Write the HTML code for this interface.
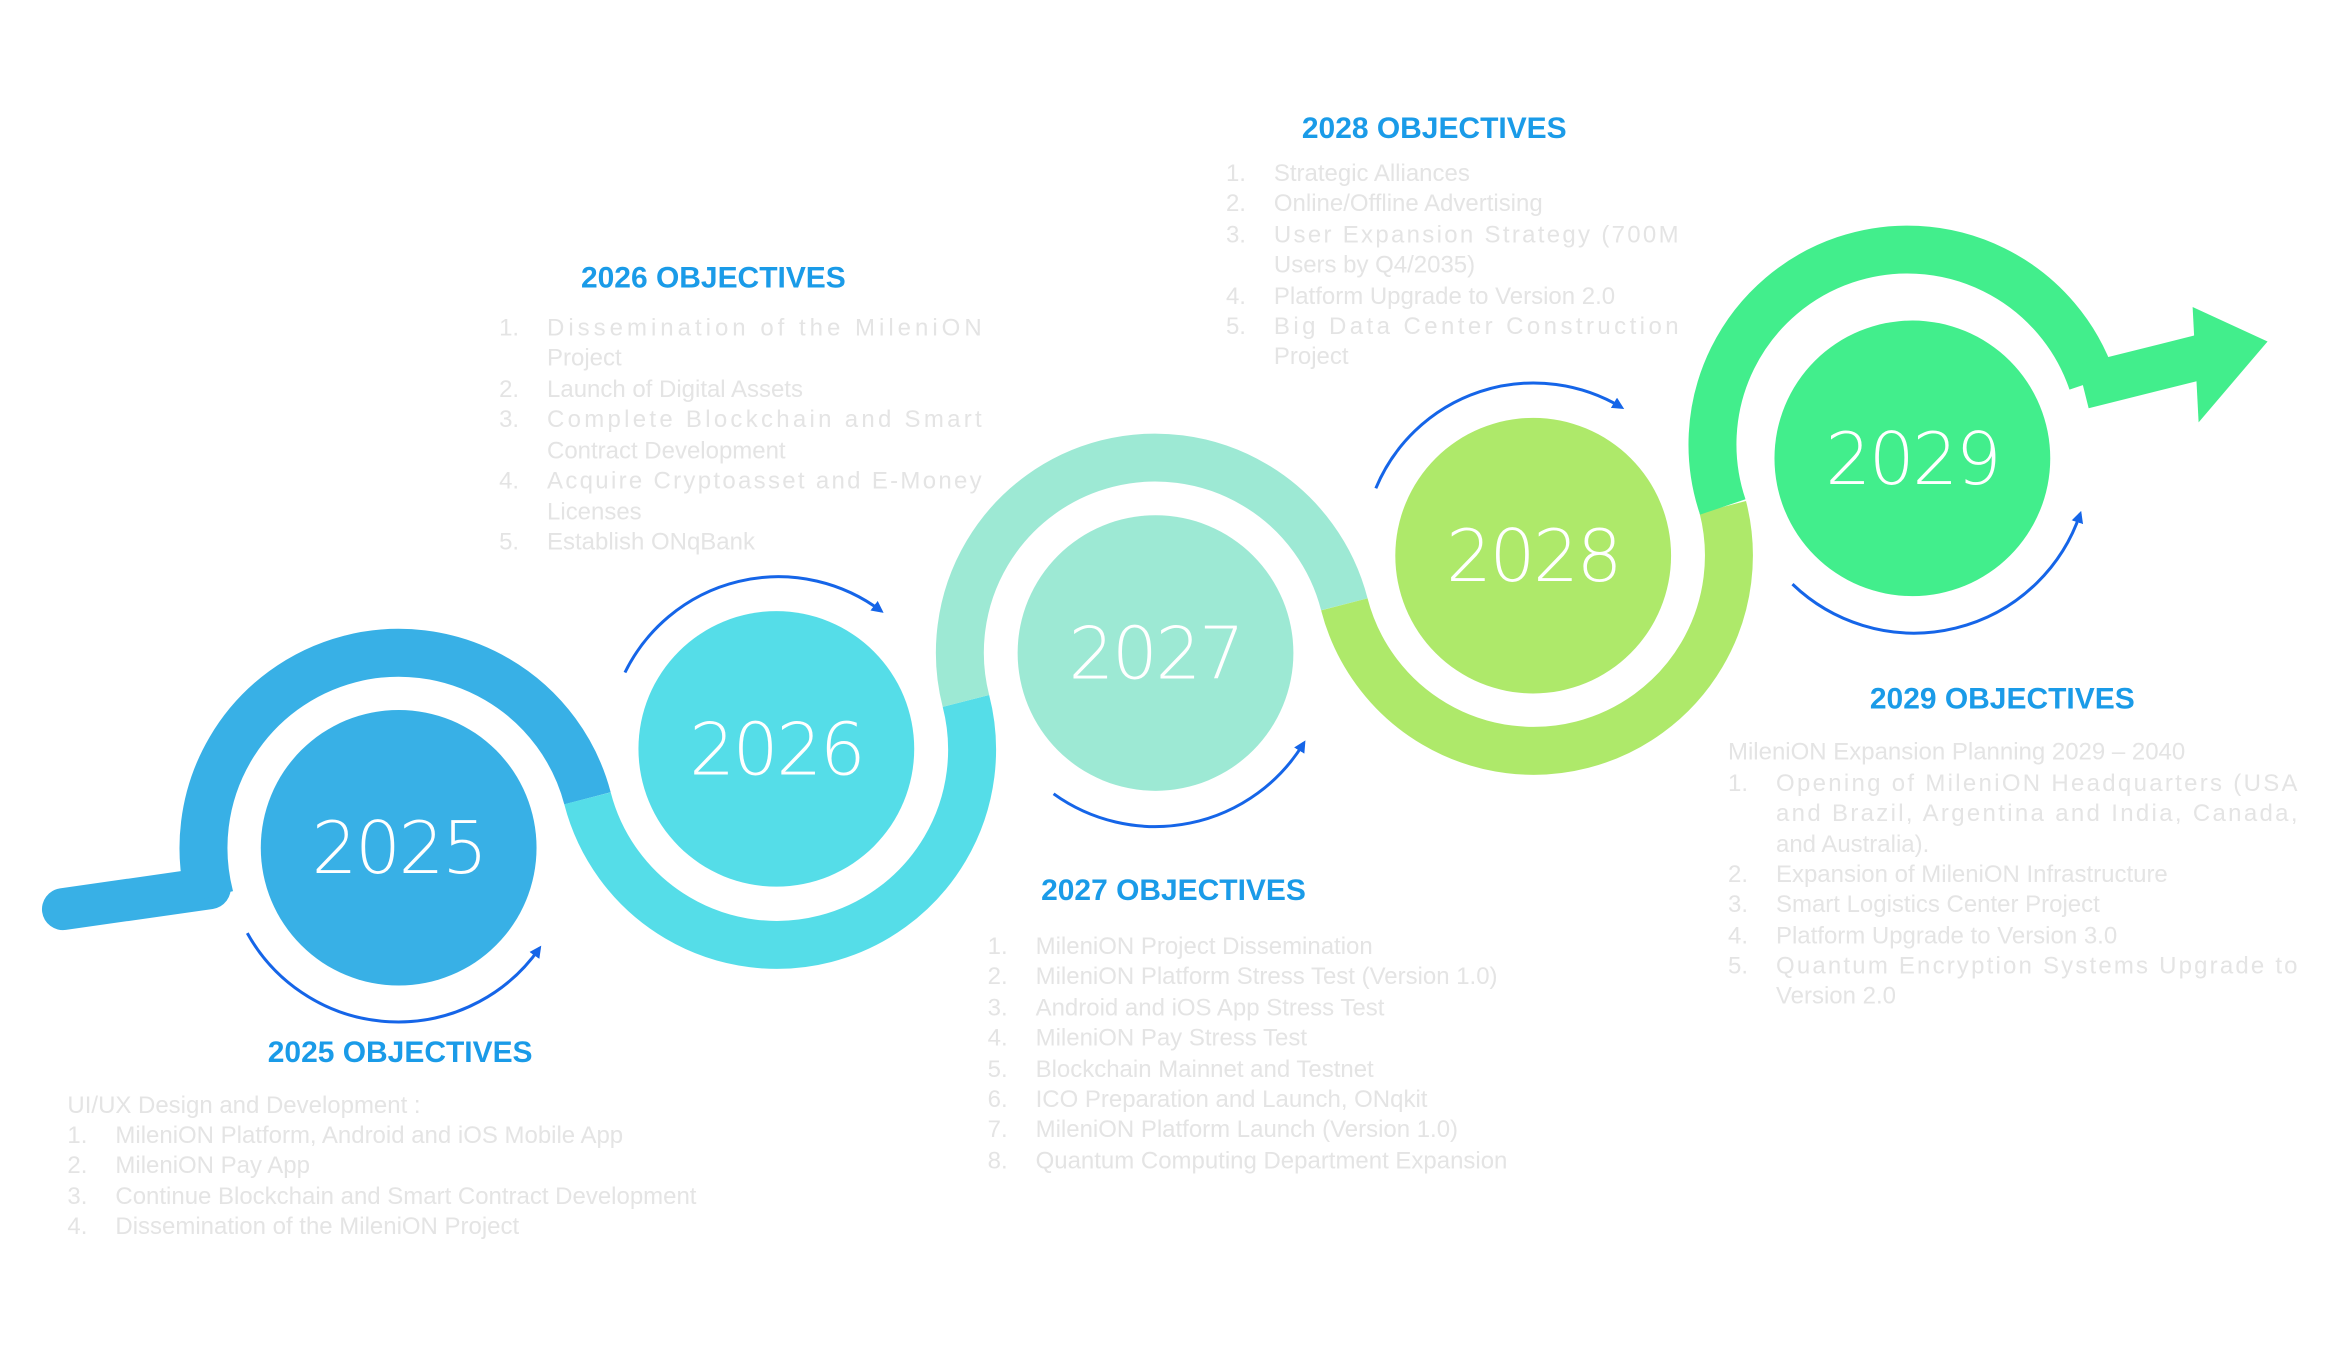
<!DOCTYPE html>
<html><head><meta charset="utf-8"><style>
html,body{margin:0;padding:0;background:#fff;}
svg{display:block;}
.t{font-family:"Liberation Sans",sans-serif;font-weight:bold;font-size:20px;fill:#1a9be8;text-anchor:middle;}
.b{font-family:"Liberation Sans",sans-serif;font-size:16px;fill:#e4e4e4;}
.y{font-family:"DejaVu Sans","Liberation Sans",sans-serif;font-weight:200;font-size:48px;letter-spacing:-1.5px;fill:#fff;text-anchor:middle;}
</style></head><body>
<svg width="2338" height="1348" viewBox="0 0 1560 900" preserveAspectRatio="none">
<defs>
<marker id="ah" markerWidth="8" markerHeight="8" refX="6" refY="4" orient="auto" markerUnits="userSpaceOnUse">
<path d="M0,0 L8,4 L0,8 z" fill="#1565e8"/></marker>
</defs>
<line x1="140" y1="593" x2="42" y2="607" stroke="#38b0e6" stroke-width="28" stroke-linecap="round"/>
<g fill="none" stroke-width="32">
<path d="M140,599 A130,130 0 0 1 392,533" stroke="#38b0e6"/>
<path d="M392,533 A130,130 0 0 0 644.5,468" stroke="#55dde8"/>
<path d="M644.5,468 A130,130 0 0 1 897,403.5" stroke="#9de9d4"/>
<path d="M897,403.5 A130,130 0 0 0 1149.5,338.5" stroke="#aee96a"/>
<path d="M1149.5,338.5 A130,130 0 0 1 1396,255" stroke="#42ee8c"/>
</g>
<line x1="1390" y1="258" x2="1470" y2="238" stroke="#42ee8c" stroke-width="30"/>
<polygon points="1463,205 1513,228 1467,282" fill="#42ee8c"/>
<circle cx="266" cy="566" r="92" fill="#38b0e6"/>
<circle cx="518" cy="500" r="92" fill="#55dde8"/>
<circle cx="771" cy="436" r="92" fill="#9de9d4"/>
<circle cx="1023" cy="371" r="92" fill="#aee96a"/>
<circle cx="1276" cy="306" r="92" fill="#42ee8c"/>
<text class="y" x="266" y="583">2025</text>
<text class="y" x="518" y="517">2026</text>
<text class="y" x="771" y="453">2027</text>
<text class="y" x="1023" y="388">2028</text>
<text class="y" x="1276" y="323">2029</text>
<g fill="none" stroke="#1565e8" stroke-width="2" marker-end="url(#ah)">
<path d="M165,623 A115,115 0 0 0 360,633"/>
<path d="M417,449 A114,114 0 0 1 588,408"/>
<path d="M703,530 A116,116 0 0 0 870,496"/>
<path d="M918,326 A114,114 0 0 1 1082,272"/>
<path d="M1196,390 A117,117 0 0 0 1388,343"/>
</g>
<text class="t" x="476" y="192">2026 OBJECTIVES</text>
<g class="b">
<text x="333" y="224">1.</text><text x="365" y="224" textLength="290">Dissemination of the MileniON</text>
<text x="365" y="244">Project</text>
<text x="333" y="265">2.</text><text x="365" y="265">Launch of Digital Assets</text>
<text x="333" y="285">3.</text><text x="365" y="285" textLength="290">Complete Blockchain and Smart</text>
<text x="365" y="306">Contract Development</text>
<text x="333" y="326">4.</text><text x="365" y="326" textLength="290">Acquire Cryptoasset and E-Money</text>
<text x="365" y="347">Licenses</text>
<text x="333" y="367">5.</text><text x="365" y="367">Establish ONqBank</text>
</g>
<text class="t" x="957" y="92">2028 OBJECTIVES</text>
<g class="b">
<text x="818" y="121">1.</text><text x="850" y="121">Strategic Alliances</text>
<text x="818" y="141">2.</text><text x="850" y="141">Online/Offline Advertising</text>
<text x="818" y="162">3.</text><text x="850" y="162" textLength="270">User Expansion Strategy (700M</text>
<text x="850" y="182">Users by Q4/2035)</text>
<text x="818" y="203">4.</text><text x="850" y="203">Platform Upgrade to Version 2.0</text>
<text x="818" y="223">5.</text><text x="850" y="223" textLength="270">Big Data Center Construction</text>
<text x="850" y="243">Project</text>
</g>
<text class="t" x="783" y="601">2027 OBJECTIVES</text>
<g class="b">
<text x="659" y="637">1.</text><text x="691" y="637">MileniON Project Dissemination</text>
<text x="659" y="657">2.</text><text x="691" y="657">MileniON Platform Stress Test (Version 1.0)</text>
<text x="659" y="678">3.</text><text x="691" y="678">Android and iOS App Stress Test</text>
<text x="659" y="698">4.</text><text x="691" y="698">MileniON Pay Stress Test</text>
<text x="659" y="719">5.</text><text x="691" y="719">Blockchain Mainnet and Testnet</text>
<text x="659" y="739">6.</text><text x="691" y="739">ICO Preparation and Launch, ONqkit</text>
<text x="659" y="759">7.</text><text x="691" y="759">MileniON Platform Launch (Version 1.0)</text>
<text x="659" y="780">8.</text><text x="691" y="780">Quantum Computing Department Expansion</text>
</g>
<text class="t" x="267" y="709">2025 OBJECTIVES</text>
<g class="b">
<text x="45" y="743">UI/UX Design and Development :</text>
<text x="45" y="763">1.</text><text x="77" y="763">MileniON Platform, Android and iOS Mobile App</text>
<text x="45" y="783">2.</text><text x="77" y="783">MileniON Pay App</text>
<text x="45" y="804">3.</text><text x="77" y="804">Continue Blockchain and Smart Contract Development</text>
<text x="45" y="824">4.</text><text x="77" y="824">Dissemination of the MileniON Project</text>
</g>
<text class="t" x="1336" y="473">2029 OBJECTIVES</text>
<g class="b">
<text x="1153" y="507">MileniON Expansion Planning 2029 – 2040</text>
<text x="1153" y="528">1.</text><text x="1185" y="528" textLength="348">Opening of MileniON Headquarters (USA</text>
<text x="1185" y="548" textLength="348">and Brazil, Argentina and India, Canada,</text>
<text x="1185" y="569">and Australia).</text>
<text x="1153" y="589">2.</text><text x="1185" y="589">Expansion of MileniON Infrastructure</text>
<text x="1153" y="609">3.</text><text x="1185" y="609">Smart Logistics Center Project</text>
<text x="1153" y="630">4.</text><text x="1185" y="630">Platform Upgrade to Version 3.0</text>
<text x="1153" y="650">5.</text><text x="1185" y="650" textLength="348">Quantum Encryption Systems Upgrade to</text>
<text x="1185" y="670">Version 2.0</text>
</g>
</svg>
</body></html>
